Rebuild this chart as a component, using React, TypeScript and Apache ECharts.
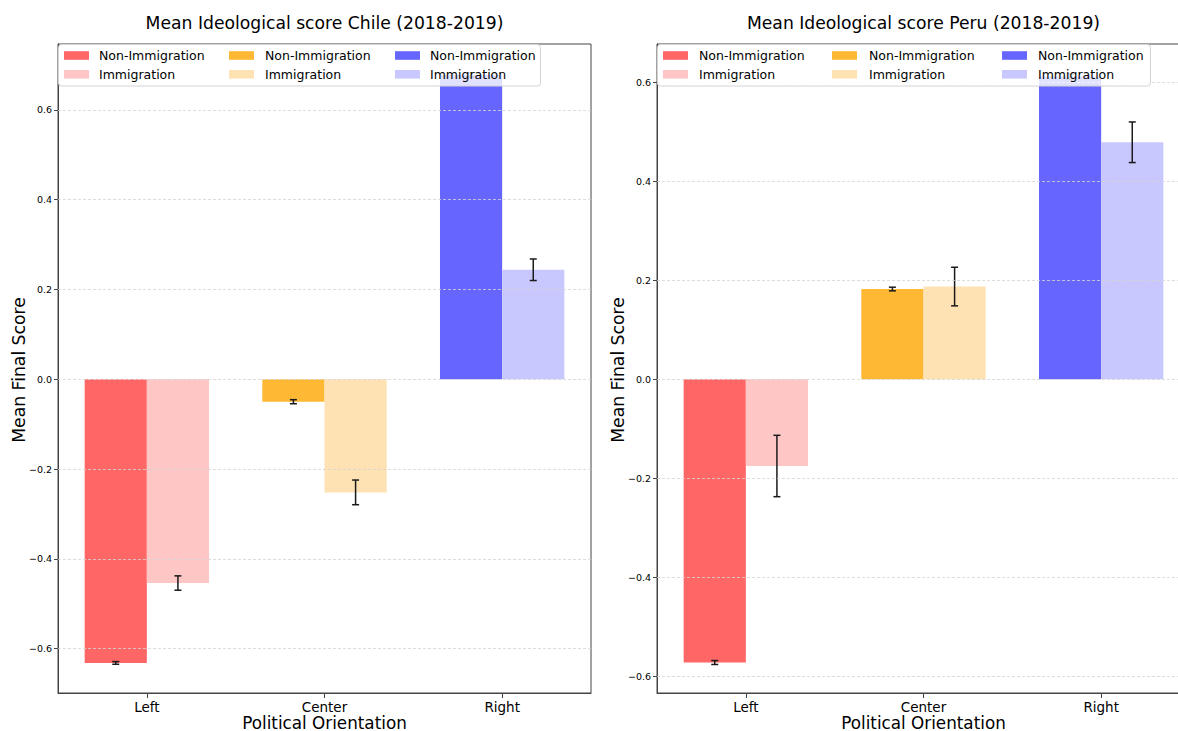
import React, { useEffect, useRef } from "react";
import * as echarts from "echarts";

const categories = ["Left", "Center", "Right"];
const yTicks = [-0.6, -0.4, -0.2, 0, 0.2, 0.4, 0.6];

const chileNon = [-0.632, -0.05, 0.678];
const chileNonErr = [0.003, 0.0045, 0.005];
const chileImm = [-0.454, -0.252, 0.244];
const chileImmErr = [0.016, 0.0275, 0.024];

const peruNon = [-0.572, 0.1825, 0.612];
const peruNonErr = [0.004, 0.0037, 0.005];
const peruImm = [-0.175, 0.1875, 0.479];
const peruImmErr = [0.062, 0.039, 0.041];

const chileRange = [-0.699, 0.747];
const peruRange = [-0.6336, 0.6775];

const titles = ["Mean Ideological score Chile (2018-2019)", "Mean Ideological score Peru (2018-2019)"];
const xName = "Political Orientation";
const yName = "Mean Final Score";
const legendLabels = ["Non-Immigration", "Immigration"];

const nonColors = ["#ff6666", "#ffb833", "#6666ff"];
const immColors = ["#ffc6c6", "#ffe2b3", "#c8c8ff"];

const FONT = "DejaVu Sans";
const GRID_LEFTS = [58, 657];
const GRID_W = 533;
const GRID_TOP = 44;
const GRID_H = 649;

function fmt(v: number) {
  const s = Math.abs(v).toFixed(1);
  return (v < -1e-9 ? "\u2212" : "") + s;
}

function errSeries(idx: number, vals: number[], errs: number[], side: number) {
  return {
    type: "custom",
    xAxisIndex: idx,
    yAxisIndex: idx,
    clip: true,
    z: 5,
    silent: true,
    data: vals.map((v, i) => [i, v, errs[i]]),
    renderItem: (params: any, api: any) => {
      const x = api.value(0);
      const y = api.value(1);
      const e = api.value(2);
      const band = api.size([1, 0])[0];
      const cx = api.coord([x, y])[0] + side * band * 0.175;
      const top = api.coord([x, y + e])[1];
      const bot = api.coord([x, y - e])[1];
      const cap = 3.5;
      const style = { stroke: "#1a1a1a", lineWidth: 1.5 };
      return {
        type: "group",
        children: [
          { type: "line", shape: { x1: cx, y1: top, x2: cx, y2: bot }, style },
          { type: "line", shape: { x1: cx - cap, y1: top, x2: cx + cap, y2: top }, style },
          { type: "line", shape: { x1: cx - cap, y1: bot, x2: cx + cap, y2: bot }, style },
        ],
      };
    },
  };
}

function barSeries(idx: number, vals: number[], colors: string[], withGrid: boolean) {
  const s: any = {
    type: "bar",
    xAxisIndex: idx,
    yAxisIndex: idx,
    barWidth: "35%",
    barGap: "0%",
    data: vals.map((v, i) => ({ value: v, itemStyle: { color: colors[i] } })),
  };
  if (withGrid) {
    s.markLine = {
      silent: true,
      symbol: ["none", "none"],
      label: { show: false },
      lineStyle: { type: [3, 2], color: "#d4d4d4", width: 0.8 },
      data: yTicks.map((v) => ({ yAxis: v })),
      z: 10,
    };
  }
  return s;
}

function legendGraphics(boxX: number, boxW: number, patchXs: number[], textXs: number[]) {
  const els: any[] = [
    {
      type: "rect",
      z: 100,
      shape: { x: boxX + 0.5, y: GRID_TOP + 0.5, width: boxW, height: 41.5, r: 3 },
      style: { fill: "rgba(255,255,255,0.8)", stroke: "#d3d3d3", lineWidth: 1 },
    },
  ];
  const rowsY = [55.5, 74.3];
  for (let c = 0; c < 3; c++) {
    for (let r = 0; r < 2; r++) {
      els.push({
        type: "rect",
        z: 101,
        shape: { x: patchXs[c], y: rowsY[r] - 4.3, width: 25, height: 8.6 },
        style: { fill: r === 0 ? nonColors[c] : immColors[c] },
      });
      els.push({
        type: "text",
        z: 101,
        x: textXs[c],
        y: rowsY[r],
        style: {
          text: legendLabels[r],
          fontSize: 12.5,
          fontFamily: FONT,
          fill: "#000",
          verticalAlign: "middle",
          align: "left",
        },
      });
    }
  }
  return els;
}

export default function App() {
  const ref = useRef<HTMLDivElement>(null);
  useEffect(() => {
    if (!ref.current) return;
    const chart = echarts.init(ref.current, null, { renderer: "svg" });
    const ranges = [chileRange, peruRange];
    const option: any = {
      animation: false,
      backgroundColor: "#fff",
      grid: GRID_LEFTS.map((l) => ({
        left: l,
        top: GRID_TOP,
        width: GRID_W,
        height: GRID_H,
        show: true,
        borderColor: "#444",
        borderWidth: 1,
        backgroundColor: "transparent",
        containLabel: false,
        outerBoundsMode: "none",
      })),
      xAxis: [0, 1].map((i) => ({
        type: "category",
        gridIndex: i,
        data: categories,
        axisLine: { show: true, onZero: false, lineStyle: { color: "#444", width: 1 } },
        axisTick: { show: true, alignWithLabel: true, length: 5, lineStyle: { color: "#444" } },
        axisLabel: { fontSize: 13.5, lineHeight: 13.5, fontFamily: FONT, color: "#000", margin: 7 },
        splitLine: { show: false },
      })),
      yAxis: [0, 1].map((i) => ({
        type: "value",
        gridIndex: i,
        min: ranges[i][0],
        max: ranges[i][1],
        axisLine: { show: true, lineStyle: { color: "#444", width: 1 } },
        axisTick: { show: true, length: 4, customValues: yTicks, lineStyle: { color: "#444" } },
        axisLabel: {
          fontSize: 9.5,
          fontFamily: FONT,
          color: "#000",
          margin: 6,
          customValues: yTicks,
          formatter: (v: number) => fmt(v),
        },
        splitLine: { show: false },
      })),
      series: [
        barSeries(0, chileNon, nonColors, true),
        barSeries(0, chileImm, immColors, false),
        barSeries(1, peruNon, nonColors, true),
        barSeries(1, peruImm, immColors, false),
        errSeries(0, chileNon, chileNonErr, -1),
        errSeries(0, chileImm, chileImmErr, 1),
        errSeries(1, peruNon, peruNonErr, -1),
        errSeries(1, peruImm, peruImmErr, 1),
      ],
      graphic: [
        ...titles.map((t, i) => ({
          type: "text",
          z: 100,
          x: GRID_LEFTS[i] + GRID_W / 2,
          y: 22.5,
          style: {
            text: t,
            fontSize: 17.2,
            fontFamily: FONT,
            fill: "#000",
            align: "center",
            verticalAlign: "middle",
          },
        })),
        ...GRID_LEFTS.map((l) => ({
          type: "text",
          z: 100,
          x: l + GRID_W / 2,
          y: 722.5,
          style: {
            text: xName,
            fontSize: 16.8,
            lineHeight: 16.8,
            fontFamily: FONT,
            fill: "#000",
            align: "center",
            verticalAlign: "middle",
          },
        })),
        ...GRID_LEFTS.map((l) => ({
          type: "text",
          z: 100,
          x: l - 39,
          y: 370,
          rotation: Math.PI / 2,
          style: {
            text: yName,
            fontSize: 17.2,
            fontFamily: FONT,
            fill: "#000",
            align: "center",
            verticalAlign: "middle",
          },
        })),
        ...legendGraphics(58, 482, [64, 229, 395], [99, 265, 430]),
        ...legendGraphics(657, 493, [663, 832, 1002], [699, 869, 1038]),
      ],
    };
    chart.setOption(option);
    return () => chart.dispose();
  }, []);
  return (
    <div
      ref={ref}
      style={{ position: "fixed", left: 0, top: 0, width: 1178, height: 731 }}
    />
  );
}
